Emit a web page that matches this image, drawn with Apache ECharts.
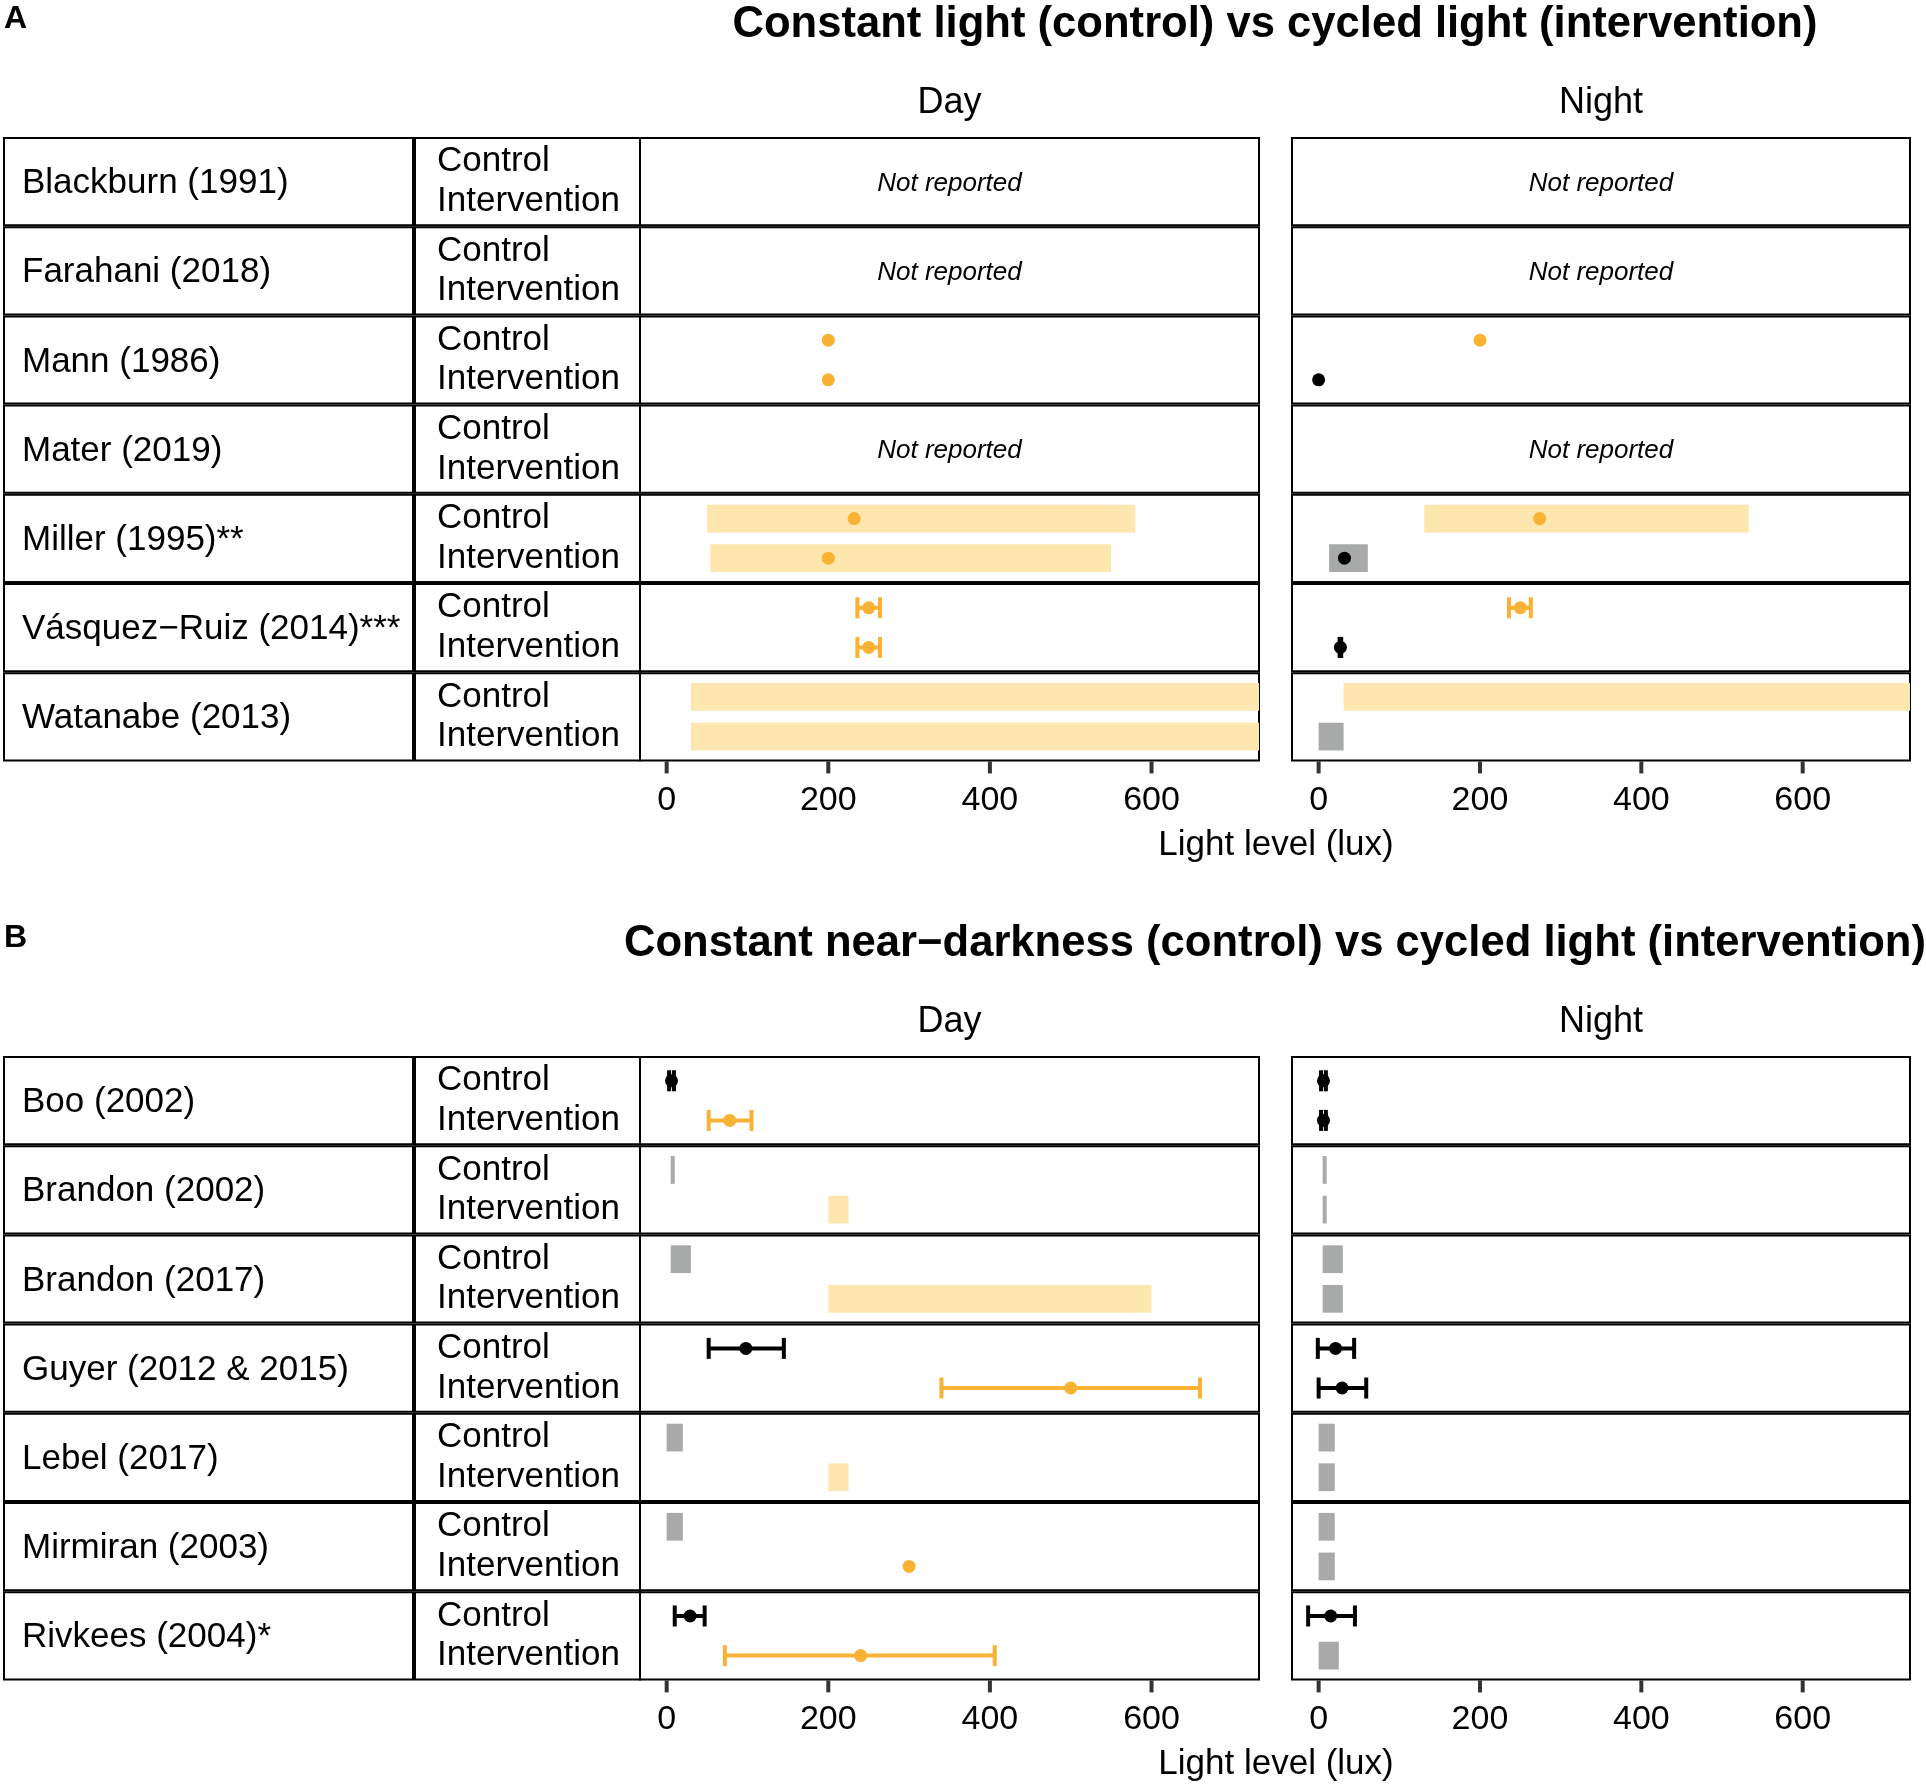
<!DOCTYPE html>
<html>
<head>
<meta charset="utf-8">
<title>Light levels: constant vs cycled light</title>
<script src="https://cdn.jsdelivr.net/npm/echarts@6/dist/echarts.min.js"></script>
<style>
  body { margin: 0; background: #fff; }
  #chart { width: 1926px; height: 1786px; }
</style>
</head>
<body>
<div id="chart"></div>
<script>
const panelLetters = ['A', 'B'];
const panelTitles = [
    'Constant light (control) vs cycled light (intervention)',
    'Constant near\u2212darkness (control) vs cycled light (intervention)'
];
const periods = ['Day', 'Night'];
const arms = ['Control', 'Intervention'];
const xTicks = [0, 200, 400, 600];
const xName = 'Light level (lux)';
const missingText = 'Not reported';

const studiesA = ['Blackburn (1991)', 'Farahani (2018)', 'Mann (1986)', 'Mater (2019)',
    'Miller (1995)**', 'V\u00e1squez\u2212Ruiz (2014)***', 'Watanabe (2013)'];
const studiesB = ['Boo (2002)', 'Brandon (2002)', 'Brandon (2017)', 'Guyer (2012 & 2015)',
    'Lebel (2017)', 'Mirmiran (2003)', 'Rivkees (2004)*'];

// shaded ranges: [period, study, arm, tone, low, high]
const rangesA = [
    [0, 4, 0, 'light', 50, 580], [0, 4, 1, 'light', 54, 550],
    [0, 6, 0, 'light', 30, 1000], [0, 6, 1, 'light', 30, 1000],
    [1, 4, 0, 'light', 131, 533], [1, 4, 1, 'dark', 13, 61],
    [1, 6, 0, 'light', 31, 1000], [1, 6, 1, 'dark', 0, 31]
];
// means: [period, study, arm, tone, value]
const pointsA = [
    [0, 2, 0, 'light', 200], [0, 2, 1, 'light', 200],
    [1, 2, 0, 'light', 200], [1, 2, 1, 'dark', 0],
    [0, 4, 0, 'light', 232], [0, 4, 1, 'light', 200],
    [1, 4, 0, 'light', 274], [1, 4, 1, 'dark', 32],
    [0, 5, 0, 'light', 250], [0, 5, 1, 'light', 250],
    [1, 5, 0, 'light', 250], [1, 5, 1, 'dark', 27]
];
// error bars: [period, study, arm, tone, low, high]
const errorsA = [
    [0, 5, 0, 'light', 236, 264], [0, 5, 1, 'light', 236, 264],
    [1, 5, 0, 'light', 236, 263], [1, 5, 1, 'dark', 26, 28]
];

const rangesB = [
    [0, 1, 0, 'dark', 5, 10], [0, 1, 1, 'light', 200, 225],
    [1, 1, 0, 'dark', 5, 10], [1, 1, 1, 'dark', 5, 10],
    [0, 2, 0, 'dark', 5, 30], [0, 2, 1, 'light', 200, 600],
    [1, 2, 0, 'dark', 5, 30], [1, 2, 1, 'dark', 5, 30],
    [0, 4, 0, 'dark', 0, 20], [0, 4, 1, 'light', 200, 225],
    [1, 4, 0, 'dark', 0, 20], [1, 4, 1, 'dark', 0, 20],
    [0, 5, 0, 'dark', 0, 20],
    [1, 5, 0, 'dark', 0, 20], [1, 5, 1, 'dark', 0, 20],
    [1, 6, 1, 'dark', 0, 25]
];
const pointsB = [
    [0, 0, 0, 'dark', 6], [0, 0, 1, 'light', 78],
    [1, 0, 0, 'dark', 6], [1, 0, 1, 'dark', 6],
    [0, 3, 0, 'dark', 98], [0, 3, 1, 'light', 500],
    [1, 3, 0, 'dark', 21], [1, 3, 1, 'dark', 29],
    [0, 5, 1, 'light', 300],
    [0, 6, 0, 'dark', 29], [0, 6, 1, 'light', 240],
    [1, 6, 0, 'dark', 15]
];
const errorsB = [
    [0, 0, 0, 'dark', 3, 9], [0, 0, 1, 'light', 52, 105],
    [1, 0, 0, 'dark', 3, 9], [1, 0, 1, 'dark', 3, 9],
    [0, 3, 0, 'dark', 52, 145], [0, 3, 1, 'light', 340, 660],
    [1, 3, 0, 'dark', -1, 44], [1, 3, 1, 'dark', 0, 59],
    [0, 6, 0, 'dark', 10, 47], [0, 6, 1, 'light', 72, 406],
    [1, 6, 0, 'dark', -13, 45]
];

const sections = [
    { studies: studiesA, ranges: rangesA, points: pointsA, errors: errorsA },
    { studies: studiesB, ranges: rangesB, points: pointsB, errors: errorsB }
];

// colours
const barColor = { light: '#FDE7AE', dark: '#A8AAAA' };
const markColor = { light: '#F9B233', dark: '#000000' };
const font = 'Liberation Sans, Arial, Helvetica, sans-serif';

// layout (px)
const shiftY = [0, 919];
const tableTop = 138;
const rowH = 89.2;
const nameCol = [4, 413];
const armCol = [415, 640];
const cellX = [[640, 1259], [1292, 1910]];
const xMin = -33, xMax = 733;
// arm positions: index 0 and 1 on a padded axis
const yMin = -0.6, yMax = 1.6;

function renderRange(params, api) {
    let arm = api.value(2);
    let a = api.coord([api.value(0), arm]);
    let b = api.coord([api.value(1), arm]);
    let h = api.size([0, 1])[1] * 0.7;
    let rect = echarts.graphic.clipRectByRect(
        { x: a[0], y: a[1] - h / 2, width: b[0] - a[0], height: h },
        params.coordSys
    );
    if (!rect) return;
    return { type: 'rect', shape: rect, style: { fill: api.visual('color') } };
}

function renderError(params, api) {
    let arm = api.value(2);
    let a = api.coord([api.value(0), arm]);
    let b = api.coord([api.value(1), arm]);
    let cap = 10.5;
    let style = { stroke: api.visual('color'), lineWidth: 4 };
    return {
        type: 'group',
        children: [
            { type: 'line', shape: { x1: a[0], y1: a[1], x2: b[0], y2: b[1] }, style: style },
            { type: 'line', shape: { x1: a[0], y1: a[1] - cap, x2: a[0], y2: a[1] + cap }, style: style },
            { type: 'line', shape: { x1: b[0], y1: b[1] - cap, x2: b[0], y2: b[1] + cap }, style: style }
        ]
    };
}

// tick marks drawn inside a thin strip grid under each panel
function renderTick(params, api) {
    let x = api.coord([api.value(0), 0])[0];
    let cs = params.coordSys;
    return {
        type: 'line',
        shape: { x1: x, y1: cs.y, x2: x, y2: cs.y + cs.height },
        style: { stroke: '#333', lineWidth: 4 }
    };
}

let grids = [], xAxes = [], yAxes = [], series = [], graphics = [];

function text(x, y, str, size, extra) {
    graphics.push({
        type: 'text', x: x, y: y, silent: true,
        style: Object.assign({
            text: str, fontSize: size, fontFamily: font, fill: '#000',
            align: 'center', verticalAlign: 'middle'
        }, extra || {})
    });
}

sections.forEach((sec, s) => {
    let dy = shiftY[s];
    let top = tableTop + dy;
    let n = sec.studies.length;

    text(4, 19 + dy, panelLetters[s], 32, { fontWeight: 'bold', align: 'left' });
    text(1275, 25 + dy, panelTitles[s], 43.6, { fontWeight: 'bold' });
    periods.forEach((p, pi) => {
        text((cellX[pi][0] + cellX[pi][1]) / 2, 103 + dy, p, 36);
    });
    text(1276, 845 + dy, xName, 35);

    sec.studies.forEach((name, i) => {
        let y = top + i * rowH;
        let h = rowH - 2;
        graphics.push({
            type: 'rect', silent: true,
            shape: { x: nameCol[0], y: y, width: nameCol[1] - nameCol[0], height: h },
            style: { fill: 'none', stroke: '#000', lineWidth: 2 }
        });
        graphics.push({
            type: 'rect', silent: true,
            shape: { x: armCol[0], y: y, width: armCol[1] - armCol[0], height: h },
            style: { fill: 'none', stroke: '#000', lineWidth: 2 }
        });
        text(22, y + h / 2 + 2, name, 35, { align: 'left' });

        periods.forEach((p, pi) => {
            let k = grids.length;
            let last = i === n - 1;
            grids.push({
                left: cellX[pi][0], top: y,
                width: cellX[pi][1] - cellX[pi][0], height: h,
                show: true, borderColor: '#000', borderWidth: 2, backgroundColor: 'transparent'
            });
            xAxes.push({
                gridIndex: k, type: 'value', min: xMin, max: xMax, show: last, position: 'bottom',
                axisLine: { show: false, onZero: false },
                axisTick: { show: false },
                axisLabel: { customValues: xTicks, fontSize: 34, margin: 23, color: '#000', fontFamily: font },
                splitLine: { show: false }
            });
            yAxes.push({
                gridIndex: k, type: 'value', min: yMin, max: yMax, inverse: true,
                axisLine: { show: false, onZero: false }, axisTick: { show: false }, splitLine: { show: false },
                axisLabel: {
                    show: pi === 0, customValues: [0, 1], formatter: v => arms[v],
                    margin: cellX[0][0] - 437, align: 'left',
                    fontSize: 35, color: '#000', fontFamily: font
                }
            });

            let match = d => d[0] === pi && d[1] === i;
            let ranges = sec.ranges.filter(match);
            let errors = sec.errors.filter(match);
            let points = sec.points.filter(match);

            if (!ranges.length && !errors.length && !points.length) {
                text((cellX[pi][0] + cellX[pi][1]) / 2, y + h / 2 + 2, missingText, 26, { fontStyle: 'italic' });
            }
            if (ranges.length) {
                series.push({
                    type: 'custom', xAxisIndex: k, yAxisIndex: k, z: 2, silent: true,
                    renderItem: renderRange, encode: { x: [0, 1], y: 2 },
                    data: ranges.map(d => ({ value: [d[4], d[5], d[2]], itemStyle: { color: barColor[d[3]] } }))
                });
            }
            if (errors.length) {
                series.push({
                    type: 'custom', xAxisIndex: k, yAxisIndex: k, z: 3, silent: true,
                    renderItem: renderError, encode: { x: [0, 1], y: 2 },
                    data: errors.map(d => ({ value: [d[4], d[5], d[2]], itemStyle: { color: markColor[d[3]] } }))
                });
            }
            if (points.length) {
                series.push({
                    type: 'scatter', xAxisIndex: k, yAxisIndex: k, z: 4, silent: true,
                    symbolSize: 13,
                    data: points.map(d => ({ value: [d[4], d[2]], itemStyle: { color: markColor[d[3]], opacity: 1 } }))
                });
            }
        });
    });

    // strip of tick marks below each panel
    periods.forEach((p, pi) => {
        let k = grids.length;
        grids.push({
            left: cellX[pi][0], top: top + n * rowH - 1,
            width: cellX[pi][1] - cellX[pi][0], height: 12, show: false
        });
        xAxes.push({ gridIndex: k, type: 'value', min: xMin, max: xMax, show: false });
        yAxes.push({ gridIndex: k, type: 'value', min: 0, max: 1, show: false });
        series.push({
            type: 'custom', xAxisIndex: k, yAxisIndex: k, z: 5, silent: true,
            renderItem: renderTick, encode: { x: 0 },
            data: xTicks.map(v => [v])
        });
    });
});

let chart = echarts.init(document.getElementById('chart'));
chart.setOption({
    backgroundColor: '#fff',
    animation: false,
    textStyle: { fontFamily: font },
    grid: grids,
    xAxis: xAxes,
    yAxis: yAxes,
    series: series,
    graphic: graphics
});
</script>
</body>
</html>
